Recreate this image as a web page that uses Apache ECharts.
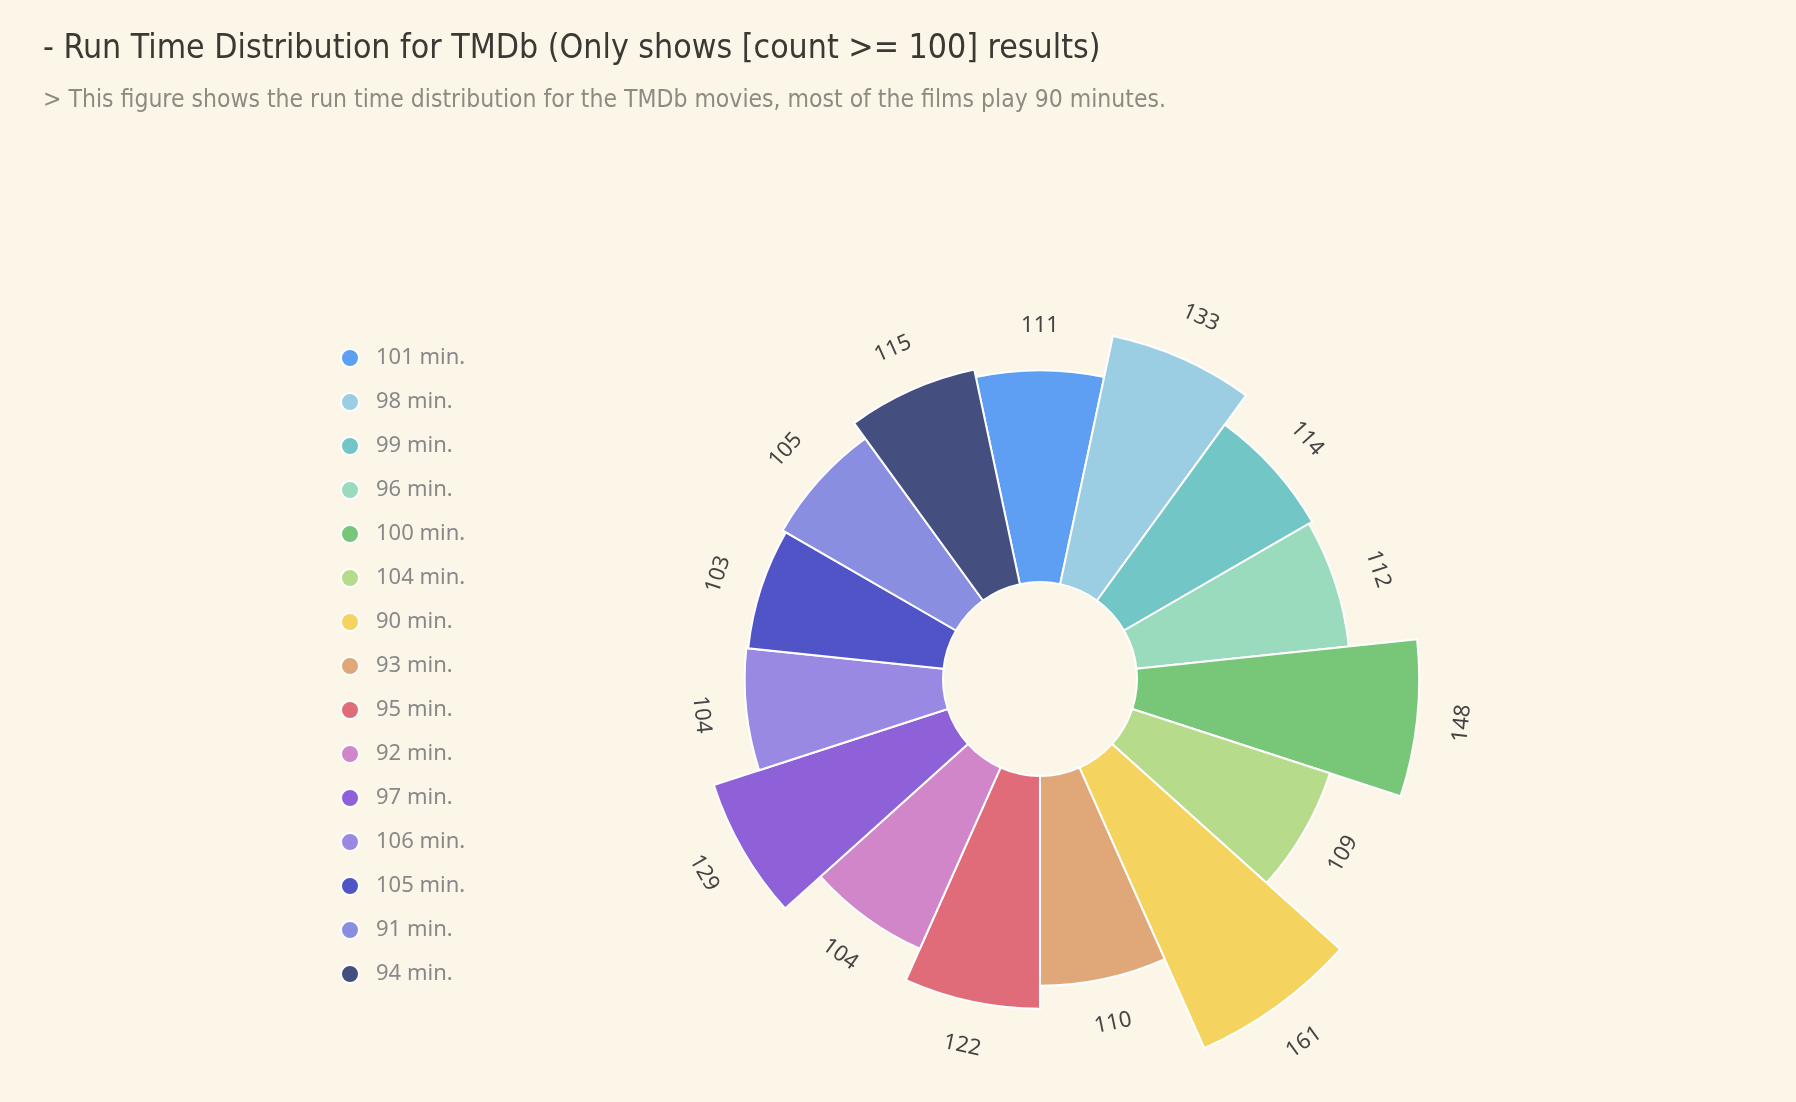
<!DOCTYPE html>
<html>
<head>
<meta charset="utf-8">
<title>Run Time Distribution</title>
<script src="https://cdn.jsdelivr.net/npm/echarts@6/dist/echarts.min.js"></script>
<style>
    html,body{margin:0;padding:0;background:#fcf6e9;}
    #runTime{width:1796px;height:1102px;}
</style>
</head>
<body>
<div id="runTime"></div>
<script>
    // run time categories, clockwise from the top
    var runTimes = ['101 min.', '98 min.', '99 min.', '96 min.', '100 min.', '104 min.', '90 min.',
        '93 min.', '95 min.', '92 min.', '97 min.', '106 min.', '105 min.', '91 min.', '94 min.'];
    // number of movies per run time
    var counts = [111, 133, 114, 112, 148, 109, 161, 110, 122, 104, 129, 104, 103, 105, 115];
    var sliceColors = ['#5e9ef3', '#9bcee3', '#72c6c6', '#9bdbbd', '#78c779', '#b6dc8b', '#f4d35f',
        '#e0a878', '#e16c79', '#d086c8', '#8f61d8', '#9a89e3', '#5154c6', '#8a8ee0', '#444f80'];

    var condensed = '"Ubuntu Condensed", "Liberation Sans Narrow", "DejaVu Sans Condensed", sans-serif';
    var plain = '"Noto Sans", "Liberation Sans", Arial, sans-serif';

    var pieData = runTimes.map(function (name, i) {
        return {name: name, value: counts[i]};
    });

    var chart = echarts.init(document.getElementById('runTime'));
    var option = {
        backgroundColor: '#fcf6e9',
        color: sliceColors,
        title: {
            left: 38,
            top: 27,
            text: '- Run Time Distribution for TMDb (Only shows [count >= 100] results)',
            subtext: '> This figure shows the run time distribution for the TMDb movies, most of the films play 90 minutes.',
            itemGap: 22,
            textStyle: {
                fontFamily: condensed,
                fontSize: 33.6,
                fontWeight: 'normal',
                color: '#3b3934'
            },
            subtextStyle: {
                fontFamily: condensed,
                fontSize: 24.5,
                color: '#8e8a82'
            }
        },
        legend: {
            orient: 'vertical',
            left: 335,
            top: 342,
            icon: 'circle',
            itemWidth: 42,
            itemHeight: 18,
            itemGap: 22,
            textStyle: {
                fontFamily: plain,
                fontSize: 22,
                color: '#888'
            },
            data: runTimes
        },
        series: [
            {
                name: 'Run Time',
                type: 'pie',
                roseType: 'area',
                center: [1040, 679],
                radius: [97, 404],
                startAngle: 102,
                itemStyle: {
                    borderColor: '#fff',
                    borderWidth: 2
                },
                label: {show: false},
                labelLine: {show: false},
                data: pieData
            },
            {
                // invisible twin rose, only used to place the value labels just outside each slice
                name: 'Run Time labels',
                type: 'pie',
                roseType: 'area',
                center: [1040, 679],
                radius: [139, 753],
                startAngle: 102,
                silent: true,
                legendHoverLink: false,
                itemStyle: {
                    color: 'rgba(0,0,0,0)',
                    borderWidth: 0
                },
                emphasis: {disabled: true},
                label: {
                    show: true,
                    position: 'inside',
                    rotate: 'tangential',
                    formatter: '{c}',
                    fontFamily: plain,
                    fontSize: 22,
                    color: '#444'
                },
                labelLine: {show: false},
                data: pieData
            }
        ]
    };
    chart.setOption(option);
    window.addEventListener('resize', chart.resize);
</script>
</body>
</html>
